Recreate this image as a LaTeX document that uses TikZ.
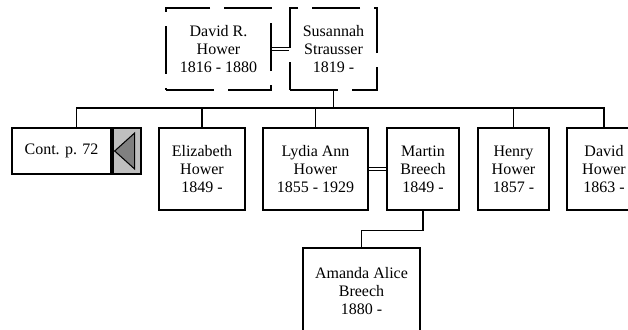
\documentclass[tikz,border=0pt]{standalone}
\usepackage{fontspec}
\setmainfont{Liberation Serif}
\usetikzlibrary{calc}
\tikzset{
  person/.style={draw, line width=1pt, inner sep=0pt, align=center,
    minimum height=61.5pt, font=\fontsize{12}{13.5}\selectfont},
  parent/.style={person, line width=0.9pt, dash pattern=on 36pt off 10.5pt},
  marriage/.style={double, double distance=2.2pt, line width=0.7pt},
  link/.style={line width=0.9pt}
}
\begin{document}
\begin{tikzpicture}[x=0.75pt, y=-0.75pt]
\useasboundingbox (0,0) rectangle (628,329);

\node[parent, minimum width=78.75pt] (davidr) at (218.5,49) {David R.\\Hower\\1816 - 1880};
\node[parent, minimum width=65.25pt] (susannah) at (333.5,49) {Susannah\\Strausser\\1819 -};
\draw[marriage] (davidr) -- (susannah);

\node[person, minimum width=74.25pt, minimum height=34.5pt] (cont) at (61.5,151) {Cont. p. 72};
\node[draw, line width=1.5pt, fill=black!25, inner sep=0pt, minimum width=21pt,
  minimum height=34.5pt, anchor=west] (contarrow) at (cont.east) {};
\draw[fill=black!50, line width=0.8pt] ([xshift=2.25pt]contarrow.west)
  -- ([xshift=-5.25pt,yshift=13.5pt]contarrow.east)
  -- ([xshift=-5.25pt,yshift=-13.5pt]contarrow.east) -- cycle;

\node[person, minimum width=64.5pt] (elizabeth) at (202,169) {Elizabeth\\Hower\\1849 -};
\node[person, minimum width=78.75pt] (lydia) at (315.5,169) {Lydia Ann\\Hower\\1855 - 1929};
\node[person, minimum width=54pt] (martin) at (423,169) {Martin\\Breech\\1849 -};
\node[person, minimum width=53.25pt] (henry) at (513.5,169) {Henry\\Hower\\1857 -};
\node[person, minimum width=55.5pt] (davidh) at (604,169) {David\\Hower\\1863 -};
\draw[marriage] (lydia) -- (martin);

\node[person, minimum width=87.75pt, minimum height=64.5pt] (amanda) at (361.5,291) {Amanda Alice\\Breech\\1880 -};

\coordinate (bar) at (333.5,108);
\coordinate (conttop) at ($(cont.north west)!.5!(contarrow.north east)$);
\draw[link] (susannah.south) -- (bar);
\draw[link] (bar) -| (conttop);
\foreach \c in {elizabeth,lydia,henry,davidh}
  \draw[link] (bar) -| (\c.north);
\draw[link] (martin.south) -- ++(0,20) -| (amanda.north);
\end{tikzpicture}
\end{document}
